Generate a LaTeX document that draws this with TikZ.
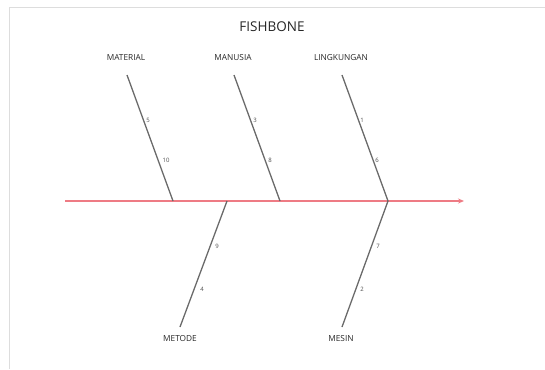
\documentclass[tikz,border=0pt]{standalone}
\usepackage{fontspec}
\setmainfont{Open Sans}
\usetikzlibrary{arrows.meta}
\definecolor{spine}{HTML}{EE7B84}
\definecolor{bone}{HTML}{6A6A6A}
\definecolor{frame}{HTML}{DDDDDD}
\tikzset{
  bonestyle/.style={draw=bone, line width=1.3pt},
  catlabel/.style={font=\fontsize{8.3}{9}\selectfont, text=black!85, inner sep=1pt},
  numlabel/.style={font=\fontsize{6}{7}\selectfont, text=black!70, inner sep=0.5pt}
}
\begin{document}
\begin{tikzpicture}[x=1pt, y=-1pt]
  \useasboundingbox (0,0) rectangle (545,369);
  % outer frame (top and left edges)
  \draw[frame, line width=0.8pt] (545,7) -- (9,7) -- (9,369);

  % title
  \node[font=\fontsize{13.5}{15}\selectfont, text=black!85] (title) at (272,27) {FISHBONE};

  % spine
  \coordinate (tail) at (65,201);
  \coordinate (head) at (464,201);
  \draw[spine, line width=1.6pt, -{Stealth[length=6pt,width=5pt]}] (tail) -- (head);

  % anchor points on the spine
  \coordinate (j1) at (173,201);
  \coordinate (j2) at (280,201);
  \coordinate (j3) at (388,201);
  \coordinate (j4) at (227,201);

  % bone ends
  \coordinate (t1) at (127,75);
  \coordinate (t2) at (234,75);
  \coordinate (t3) at (342,75);
  \coordinate (b4) at (180,327);
  \coordinate (b5) at (342,327);

  % category labels
  \node[catlabel] (material) at (126,58) {MATERIAL};
  \node[catlabel] (manusia) at (233,58) {MANUSIA};
  \node[catlabel] (lingkungan) at (341,58) {LINGKUNGAN};
  \node[catlabel] (metode) at (180,339) {METODE};
  \node[catlabel] (mesin) at (341,339) {MESIN};

  % bones
  \draw[bonestyle] (t1) -- (j1);
  \draw[bonestyle] (t2) -- (j2);
  \draw[bonestyle] (t3) -- (j3);
  \draw[bonestyle] (j4) -- (b4);
  \draw[bonestyle] (j3) -- (b5);

  % cause numbers
  \node[numlabel] (n5) at (148,120) {5};
  \node[numlabel] (n10) at (166,160) {10};
  \node[numlabel] (n3) at (255,120) {3};
  \node[numlabel] (n8) at (270,160) {8};
  \node[numlabel] (n1) at (362,120) {1};
  \node[numlabel] (n6) at (377,160) {6};
  \node[numlabel] (n9) at (217,246) {9};
  \node[numlabel] (n4) at (202,289) {4};
  \node[numlabel] (n7) at (378,246) {7};
  \node[numlabel] (n2) at (362,289) {2};
\end{tikzpicture}
\end{document}
